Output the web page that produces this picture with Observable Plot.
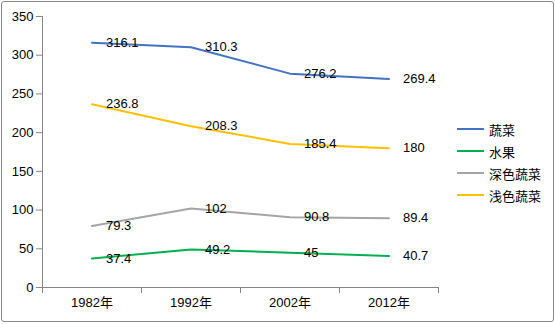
<!DOCTYPE html>
<html><head><meta charset="utf-8">
<script src="https://cdn.jsdelivr.net/npm/d3@7"></script>
<script src="https://cdn.jsdelivr.net/npm/@observablehq/plot@0.6"></script>
<style>
body{margin:0;background:#fff;font-family:"Liberation Sans",Arial,"Noto Sans CJK SC",sans-serif;}
#wrap{position:relative;width:555px;height:324px;}
#border{position:absolute;left:1px;top:1px;width:551px;height:319px;border:1px solid #888;border-radius:3px;pointer-events:none;}
#legend{position:absolute;left:457px;top:118px;font-size:13px;color:#000;}
.row{display:flex;align-items:center;height:22px;}
.sw{width:27px;height:2px;margin-right:5px;}
</style></head>
<body><div id="wrap"><div id="border"></div><div id="legend"></div></div>
<script>
const years = ["1982年","1992年","2002年","2012年"];
const seriesNames = ["蔬菜","水果","深色蔬菜","浅色蔬菜"];
const colors = ["#4472C4","#00B050","#A5A5A5","#FFC000"];
const vegetables = [316.1, 310.3, 276.2, 269.4];
const fruit = [37.4, 49.2, 45, 40.7];
const darkVeg = [79.3, 102, 90.8, 89.4];
const lightVeg = [236.8, 208.3, 185.4, 180];
const yTicks = [0,50,100,150,200,250,300,350];

const allValues = [vegetables, fruit, darkVeg, lightVeg];
const data = [];
allValues.forEach((vals, s) => vals.forEach((v, i) => data.push({series: seriesNames[s], i, v})));

const bounds = d3.range(-0.5, years.length, 1);
const plot = Plot.plot({
  width: 555, height: 324,
  marginLeft: 42, marginRight: 117, marginTop: 16, marginBottom: 37,
  style: {fontFamily: '"Liberation Sans", Arial, "Noto Sans CJK SC", sans-serif', fontSize: "13px", color: "#000", background: "transparent"},
  x: {type: "linear", domain: [-0.5, years.length - 0.5]},
  y: {domain: [0, 350]},
  color: {domain: seriesNames, range: colors},
  marks: [
    Plot.axisY({ticks: yTicks, tickSize: 6, tickPadding: 3, label: null, stroke: "#868686", fill: "#000", fontSize: 13}),
    Plot.ruleX([-0.5], {stroke: "#868686"}),
    Plot.ruleY([0], {stroke: "#868686"}),
    Plot.axisX({ticks: bounds, tickSize: 6, tickFormat: () => "", stroke: "#868686", label: null}),
    Plot.axisX({ticks: d3.range(years.length), tickSize: 0, tickPadding: 10, tickFormat: i => years[i], label: null, fill: "#000", fontSize: 13}),
    Plot.line(data, {x: "i", y: "v", z: "series", stroke: "series", strokeWidth: 2}),
    Plot.text(data, {x: "i", y: "v", text: d => String(d.v), textAnchor: "start", dx: 14, fill: "#000", fontSize: 13})
  ]
});
plot.style.position = "absolute";
plot.style.left = "0"; plot.style.top = "0";
document.getElementById("wrap").prepend(plot);

const leg = document.getElementById("legend");
seriesNames.forEach((n, k) => {
  const r = document.createElement("div"); r.className = "row";
  const sw = document.createElement("div"); sw.className = "sw"; sw.style.background = colors[k];
  const t = document.createElement("span"); t.textContent = n;
  r.appendChild(sw); r.appendChild(t); leg.appendChild(r);
});
</script></body></html>
